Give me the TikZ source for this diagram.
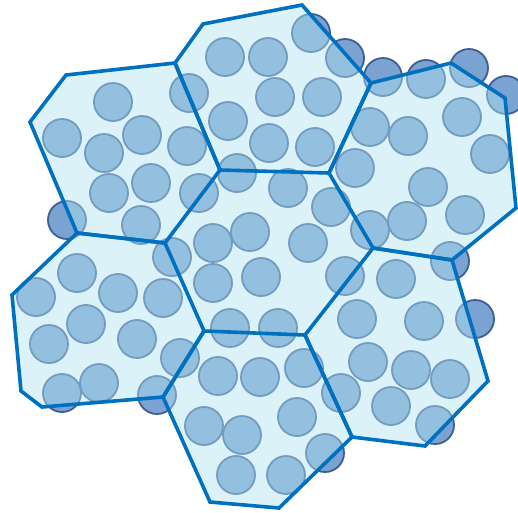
\documentclass[tikz,border=0pt]{standalone}
\usepackage{xcolor}
\usepackage{tikz}

\definecolor{cellblue}{RGB}{0,112,192}
\definecolor{cellfill}{RGB}{179,227,242}
\definecolor{ballfill}{RGB}{123,163,209}
\definecolor{ballline}{RGB}{61,95,150}

\begin{document}
\begin{tikzpicture}[
  x=1pt, y=-1pt,
  ball/.style={fill=ballfill, draw=ballline, line width=1.8pt},
  cell/.style={fill=cellfill, fill opacity=0.46},
  wall/.style={draw=cellblue, line width=3.6pt}
]
  \useasboundingbox (0,0) rectangle (518,512);

  % cell corners
  \coordinate (nwA) at (66,75);   \coordinate (nwB) at (175,63);
  \coordinate (nA)  at (203,24);  \coordinate (nB)  at (302,5);
  \coordinate (neA) at (371,83);  \coordinate (neB) at (451,63);
  \coordinate (neC) at (505,98);  \coordinate (neD) at (516,208);
  \coordinate (seA) at (452,260); \coordinate (seB) at (488,381);
  \coordinate (seC) at (425,446); \coordinate (seD) at (352,437);
  \coordinate (sA)  at (279,508); \coordinate (sB)  at (210,502);
  \coordinate (swA) at (163,397); \coordinate (swB) at (42,407);
  \coordinate (swC) at (21,391);  \coordinate (swD) at (12,295);
  \coordinate (swE) at (77,233);  \coordinate (nwC) at (30,122);
  % centre cell
  \coordinate (c1) at (220,170);  \coordinate (c2) at (329,173);
  \coordinate (c3) at (373,248);  \coordinate (c4) at (305,335);
  \coordinate (c5) at (204,331);  \coordinate (c6) at (165,243);

  % particles
  \foreach \px/\py in {
      113/102, 62/138, 104/153, 142/135, 189/93, 187/146, 109/193,
      151/183, 199/193, 67/220, 141/225,
      225/57, 268/57, 311/33, 345/58, 228/121, 275/97, 322/97,
      269/143, 315/147, 237/173,
      383/77, 426/79, 469/68, 506/95, 370/127, 408/136, 462/117,
      490/154, 355/168, 428/187, 370/230, 407/221, 465/215,
      288/188, 331/207, 213/243, 250/232, 308/243, 172/257, 213/283,
      261/277, 345/276, 230/328, 278/328,
      450/261, 396/279, 357/319, 424/321, 475/319, 368/362, 411/370,
      450/379, 391/406, 435/425,
      77/273, 36/297, 118/293, 163/298, 86/324, 49/344, 137/339,
      180/358, 99/383, 62/393, 157/395,
      218/376, 260/377, 304/368, 341/393, 297/417, 204/426, 242/435,
      236/475, 286/475, 325/453}
    \draw[ball] (\px,\py) circle[radius=19pt];

  % cells
  \fill[cell] (nwA) -- (nwB) -- (c1) -- (c6) -- (swE) -- (nwC) -- cycle;
  \fill[cell] (nA) -- (nB) -- (neA) -- (c2) -- (c1) -- (nwB) -- cycle;
  \fill[cell] (neA) -- (neB) -- (neC) -- (neD) -- (seA) -- (c3) -- (c2) -- cycle;
  \fill[cell] (c3) -- (seA) -- (seB) -- (seC) -- (seD) -- (c4) -- cycle;
  \fill[cell] (c5) -- (c4) -- (seD) -- (sA) -- (sB) -- (swA) -- cycle;
  \fill[cell] (swE) -- (c6) -- (c5) -- (swA) -- (swB) -- (swC) -- (swD) -- cycle;
  \fill[cell] (c1) -- (c2) -- (c3) -- (c4) -- (c5) -- (c6) -- cycle;

  % walls
  \draw[wall] (nwA) -- (nwB) -- (c1) -- (c6) -- (swE) -- (nwC) -- cycle;
  \draw[wall] (nA) -- (nB) -- (neA) -- (c2) -- (c1) -- (nwB) -- cycle;
  \draw[wall] (neA) -- (neB) -- (neC) -- (neD) -- (seA) -- (c3) -- (c2) -- cycle;
  \draw[wall] (c3) -- (seA) -- (seB) -- (seC) -- (seD) -- (c4) -- cycle;
  \draw[wall] (c5) -- (c4) -- (seD) -- (sA) -- (sB) -- (swA) -- cycle;
  \draw[wall] (swE) -- (c6) -- (c5) -- (swA) -- (swB) -- (swC) -- (swD) -- cycle;
\end{tikzpicture}
\end{document}
